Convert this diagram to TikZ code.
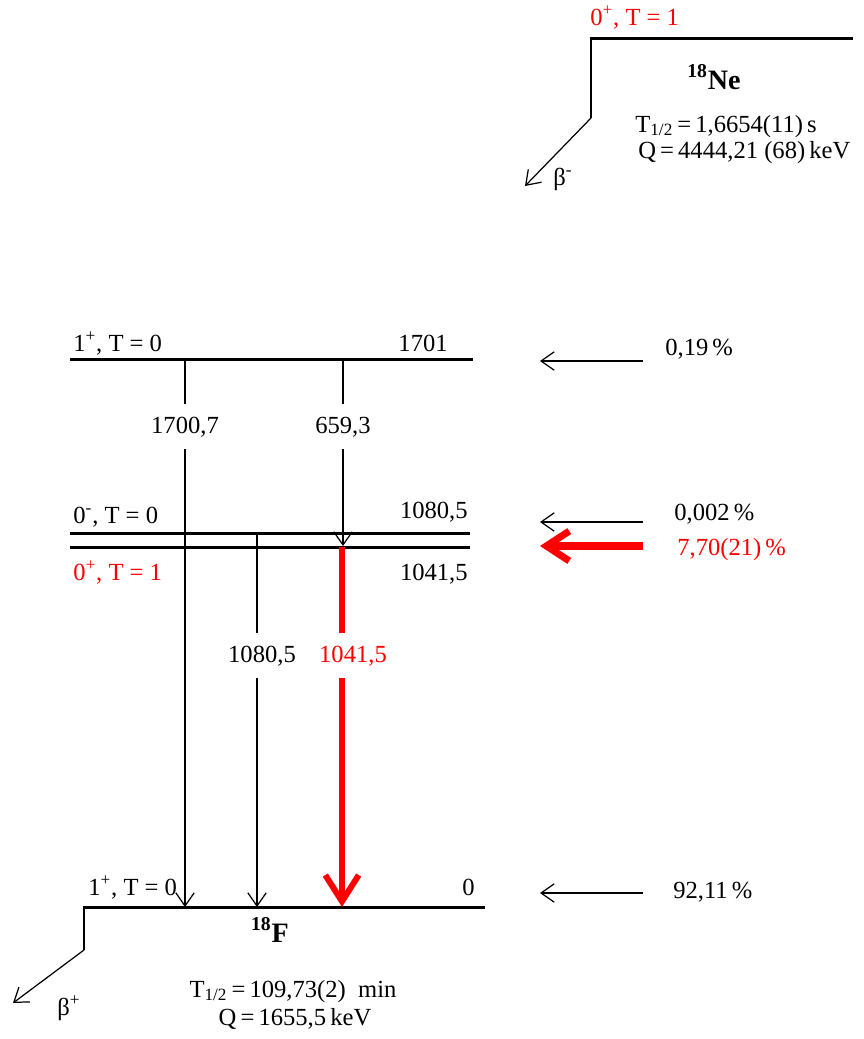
\documentclass[tikz,border=0pt]{standalone}
\usepackage{fontspec}
\setmainfont{Liberation Serif}
\usetikzlibrary{arrows.meta}

\tikzset{
    txt/.style={font=\fontsize{14}{16}\selectfont, inner sep=0pt},
    nuc/.style={font=\fontsize{16}{19}\selectfont\bfseries, inner sep=0pt},
    glbl/.style={txt, inner xsep=0pt, inner ysep=7pt},
    lvl/.style={line width=1.7pt},
    gline/.style={line width=0.7pt},
    gam/.style={line width=0.7pt, -{Straight Barb[length=7.5pt,width=10.5pt]}},
    gamred/.style={red, line width=3.4pt, -{Straight Barb[length=15pt,width=19pt]}},
    feed/.style={line width=0.7pt, -{Straight Barb[length=7.5pt,width=10.5pt]}},
    feedred/.style={red, line width=4pt, -{Straight Barb[length=13pt,width=17pt]}},
    beta/.style={line width=0.7pt, -{Straight Barb[length=7.5pt,width=10.5pt]}}
}

\begin{document}
\begin{tikzpicture}[x=0.02cm, y=-0.02cm]
    \useasboundingbox (0,0) rectangle (864,1039);

    % parent 18Ne
    \coordinate (ne-r) at (853,38);
    \coordinate (ne-l) at (591,38);
    \coordinate (ne-k) at (591,118);
    \coordinate (ne-end) at (525,186);
    \draw[lvl] (ne-r) -- (ne-l) -- (ne-k);
    \draw[beta] (ne-k) -- (ne-end);
    \node[txt, red, anchor=base west] (ne-spin) at (590,25) {0\textsuperscript{+}, T = 1};
    \node[nuc, anchor=base] (ne-name) at (714,89) {\textsuperscript{18}Ne};
    \node[txt, anchor=base west] (ne-half) at (635,132) {T\textsubscript{1/2}\,=\,1,6654(11)\,s};
    \node[txt, anchor=base west] (ne-q) at (638,158) {Q\,=\,4444,21 (68)\,keV};
    \node[txt, anchor=base west] (ne-beta) at (553,185) {β\textsuperscript{-}};

    % levels of 18F
    \coordinate (l1701-l) at (70,359);
    \coordinate (l1701-r) at (473,359);
    \coordinate (l1080-l) at (70,533);
    \coordinate (l1080-r) at (470,533);
    \coordinate (l1041-l) at (70,547);
    \coordinate (l1041-r) at (470,547);
    \coordinate (l0-l) at (84,907);
    \coordinate (l0-r) at (485,907);
    \coordinate (f-k) at (84,950);
    \coordinate (f-end) at (13,1003);
    \draw[lvl] (l1701-l) -- (l1701-r);
    \draw[lvl] (l1080-l) -- (l1080-r);
    \draw[lvl] (l1041-l) -- (l1041-r);
    \draw[lvl] (l0-r) -- (l0-l) -- (f-k);
    \draw[beta] (f-k) -- (f-end);

    \node[txt, anchor=base west] (s1701) at (73,351) {1\textsuperscript{+}, T = 0};
    \node[txt, anchor=base east] (e1701) at (448,351) {1701};
    \node[txt, anchor=base west] (s1080) at (73,523) {0\textsuperscript{-}, T = 0};
    \node[txt, anchor=base east] (e1080) at (468,518) {1080,5};
    \node[txt, red, anchor=base west] (s1041) at (73,580) {0\textsuperscript{+}, T = 1};
    \node[txt, anchor=base east] (e1041) at (468,580) {1041,5};
    \node[txt, anchor=base west] (s0) at (88,895) {1\textsuperscript{+}, T = 0};
    \node[txt, anchor=base east] (e0) at (475,895) {0};

    % gamma lines
    \coordinate (g1-top) at (185,359);
    \coordinate (g1-end) at (185,907);
    \node[glbl, anchor=base] (g1-lbl) at (185,433) {1700,7};
    \draw[gline] (g1-top) -- (g1-top |- g1-lbl.north);
    \draw[gam] (g1-top |- g1-lbl.south) -- (g1-end);

    \coordinate (g2-top) at (343,359);
    \coordinate (g2-end) at (343,546);
    \node[glbl, anchor=base] (g2-lbl) at (343,433) {659,3};
    \draw[gline] (g2-top) -- (g2-top |- g2-lbl.north);
    \draw[gam] (g2-top |- g2-lbl.south) -- (g2-end);

    \coordinate (g3-top) at (257,533);
    \coordinate (g3-end) at (257,907);
    \node[glbl, anchor=base] (g3-lbl) at (262,662) {1080,5};
    \draw[gline] (g3-top) -- (g3-top |- g3-lbl.north);
    \draw[gam] (g3-top |- g3-lbl.south) -- (g3-end);

    \coordinate (g4-top) at (342,547);
    \coordinate (g4-end) at (342,907);
    \node[glbl, red, anchor=base] (g4-lbl) at (353,662) {1041,5};
    \draw[red, line width=3.4pt] (g4-top) -- (g4-top |- g4-lbl.north);
    \draw[gamred] (g4-top |- g4-lbl.south) -- (g4-end);

    % daughter 18F
    \node[nuc, anchor=base] (f-name) at (270,942) {\textsuperscript{18}F};
    \node[txt, anchor=base] (f-half) at (293,997) {T\textsubscript{1/2}\,=\,109,73(2)\ \ min};
    \node[txt, anchor=base] (f-q) at (295,1025) {Q\,=\,1655,5\,keV};
    \node[txt, anchor=base west] (f-beta) at (57,1015) {β\textsuperscript{+}};

    % beta feeding
    \coordinate (p1-s) at (643,361);
    \coordinate (p1-e) at (540,361);
    \coordinate (p2-s) at (643,522);
    \coordinate (p2-e) at (540,522);
    \coordinate (p3-s) at (643,546);
    \coordinate (p3-e) at (540,546);
    \coordinate (p4-s) at (643,893);
    \coordinate (p4-e) at (540,893);
    \draw[feed] (p1-s) -- (p1-e);
    \draw[feed] (p2-s) -- (p2-e);
    \draw[feedred] (p3-s) -- (p3-e);
    \draw[feed] (p4-s) -- (p4-e);
    \node[txt, anchor=base west] (p1) at (665,355) {0,19\,\%};
    \node[txt, anchor=base west] (p2) at (674,520) {0,002\,\%};
    \node[txt, red, anchor=base west] (p3) at (677,555) {7,70(21)\,\%};
    \node[txt, anchor=base west] (p4) at (673,898) {92,11\,\%};
\end{tikzpicture}
\end{document}
